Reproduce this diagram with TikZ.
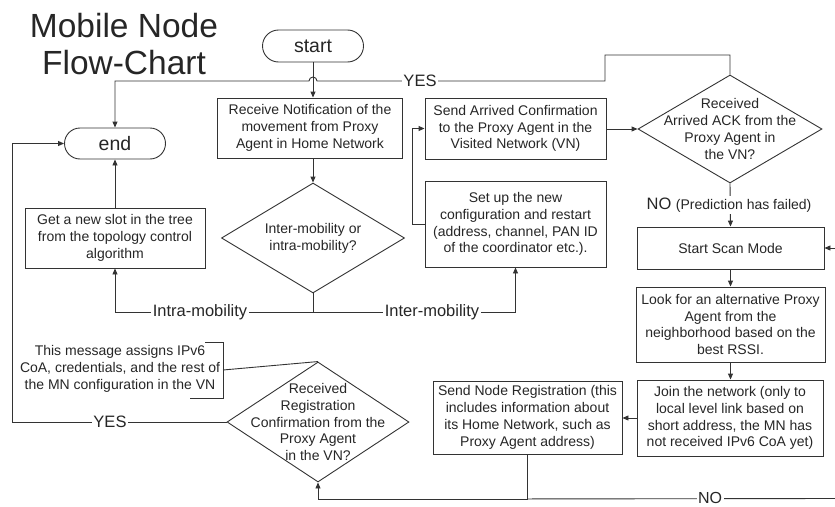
\documentclass[tikz,border=0pt]{standalone}
\usepackage{fontspec}
\setmainfont{Liberation Sans}
\usetikzlibrary{shapes.geometric,shapes.misc,arrows.meta,calc}
\newcommand\txtsz{\fontsize{14}{16.8}\selectfont}
\newcommand\lblsz{\fontsize{16.5}{19}\selectfont}
\begin{document}
\begin{tikzpicture}[x=1pt,y=-1pt,line width=0.9pt,
  every node/.style={text=black!85},
  box/.style={draw=black!80, rectangle, align=center, inner sep=0pt, font=\txtsz},
  term/.style={draw=black!80, rounded rectangle, minimum width=101pt, inner sep=0pt, font=\fontsize{19.5}{22}\selectfont},
  dec/.style={draw=black!80, diamond, inner sep=0pt},
  dtxt/.style={align=center, font=\txtsz, text=black!85},
  lbl/.style={fill=white, inner sep=1.5pt, font=\lblsz},
  arr/.style={draw=black!80, -{Triangle[length=6pt,width=5pt]}},
  ln/.style={draw=black!80}
]
\useasboundingbox (0,0) rectangle (835,506);

% title
\node[font=\fontsize{33.5}{37}\selectfont, align=center] (title) at (124,44) {Mobile Node\\Flow-Chart};

% terminators
\node[term, minimum height=32pt] (start) at (313,46) {start};
\node[term, minimum height=31pt] (end) at (115,143.5) {end};

% process boxes
\node[box, minimum width=185pt, minimum height=60pt] (recv) at (310,128)
  {Receive Notification of the\\movement from Proxy\\Agent in Home Network};
\node[box, minimum width=180pt, minimum height=60pt] (slot) at (115,238)
  {Get a new slot in the tree\\from the topology control\\algorithm};
\node[box, minimum width=181pt, minimum height=61pt] (sent) at (515.5,128.5)
  {Send Arrived Confirmation\\to the Proxy Agent in the\\Visited Network (VN)};
\node[box, minimum width=181pt, minimum height=86pt] (setup) at (515.5,224)
  {Set up the new\\configuration and restart\\(address, channel, PAN ID\\of the coordinator etc.).};
\node[box, minimum width=187pt, minimum height=42pt] (scan) at (730.5,248) {Start Scan Mode};
\node[box, minimum width=189pt, minimum height=75pt] (look) at (730.5,324.5)
  {Look for an alternative Proxy\\Agent from the\\neighborhood based on the\\best RSSI.};
\node[box, minimum width=186pt, minimum height=76pt] (join) at (730,418)
  {Join the network (only to\\local level link based on\\short address, the MN has\\not received IPv6 CoA yet)};
\node[box, minimum width=189pt, minimum height=73pt] (sreg) at (527.5,417.5)
  {Send Node Registration (this\\includes information about\\its Home Network, such as\\Proxy Agent address)};

% decisions
\node[dec, minimum width=183pt, minimum height=110pt,
  label={[dtxt]center:{Inter-mobility or\\intra-mobility?}}] (inter) at (313,238) {};
\node[dec, minimum width=184pt, minimum height=108pt,
  label={[dtxt]center:{Received\\Arrived ACK from the\\Proxy Agent in\\the VN?}}] (ack) at (730,129) {};
\node[dec, minimum width=182pt, minimum height=120pt,
  label={[dtxt]center:{Received\\Registration\\Confirmation from the\\Proxy Agent\\in the VN?}}] (reg) at (318,422) {};

% annotation
\node[align=center, font=\txtsz] (note) at (120,369)
  {This message assigns IPv6\\CoA, credentials, and the rest of\\the MN configuration in the VN};
\draw[ln] (205,342) -- (223,342) -- (223,398) -- (190,398);
\draw[ln] (223,370) -- (reg.north);

% main flow
\draw[arr] (start.south) -- (start.south |- recv.north);
\draw[arr] (inter.north |- recv.south) -- (inter.north);
\coordinate (split) at (313,312);
\draw[ln] (inter.south) -- (split);
\draw[arr] (split) -| (slot.south);
\draw[arr] (split) -| (setup.south);
\draw[arr] (slot.north) -- (end.south);
\draw[arr] (ack.west -| sent.east) -- (ack.west);
\draw[arr] (setup.west) -- ++(-12,0) |- (sent.west);

% YES from the ACK decision, hopping over the start arrow
\draw[arr] (ack.north) -- (730,55) -- (605,55) -- (605,81) -- (317,81)
  arc[start angle=0,end angle=180,radius=4pt] -- (115,81) -- (end.north);

% NO branch
\draw[arr] (ack.south) -- (scan.north);
\draw[arr] (scan.south) -- (look.north);
\draw[arr] (look.south) -- (look.south |- join.north);
\draw[arr] (join.west) -- (join.west -| sreg.east);
\path (sreg.south) ++(0,44.5) coordinate (bot);
\draw[arr] (sreg.south) -- (bot) -| (reg.south);
\coordinate (rimno) at (835,498.5);
\coordinate (rimscan) at (835,248);
\draw[ln] (bot) -- (rimno);
\draw[arr] (rimscan) -- (scan.east);

% YES from the registration decision
\coordinate (rail) at (12,422);
\draw[arr] (reg.west) -- (rail) |- (end.west);

% connector labels
\node[lbl] (yestop) at (420,81) {YES};
\node[lbl] (intra) at (200,312) {Intra-mobility};
\node[lbl] (interl) at (432,312) {Inter-mobility};
\node[fill=white, inner sep=1.5pt] (nofail) at (729,205) {\lblsz NO {\txtsz(Prediction has failed)}};
\node[lbl] (yesleft) at (110,422) {YES};
\node[lbl, inner ysep=0.3pt, font=\fontsize{16}{18}\selectfont] (nobot) at (710,498) {NO};
\end{tikzpicture}
\end{document}
